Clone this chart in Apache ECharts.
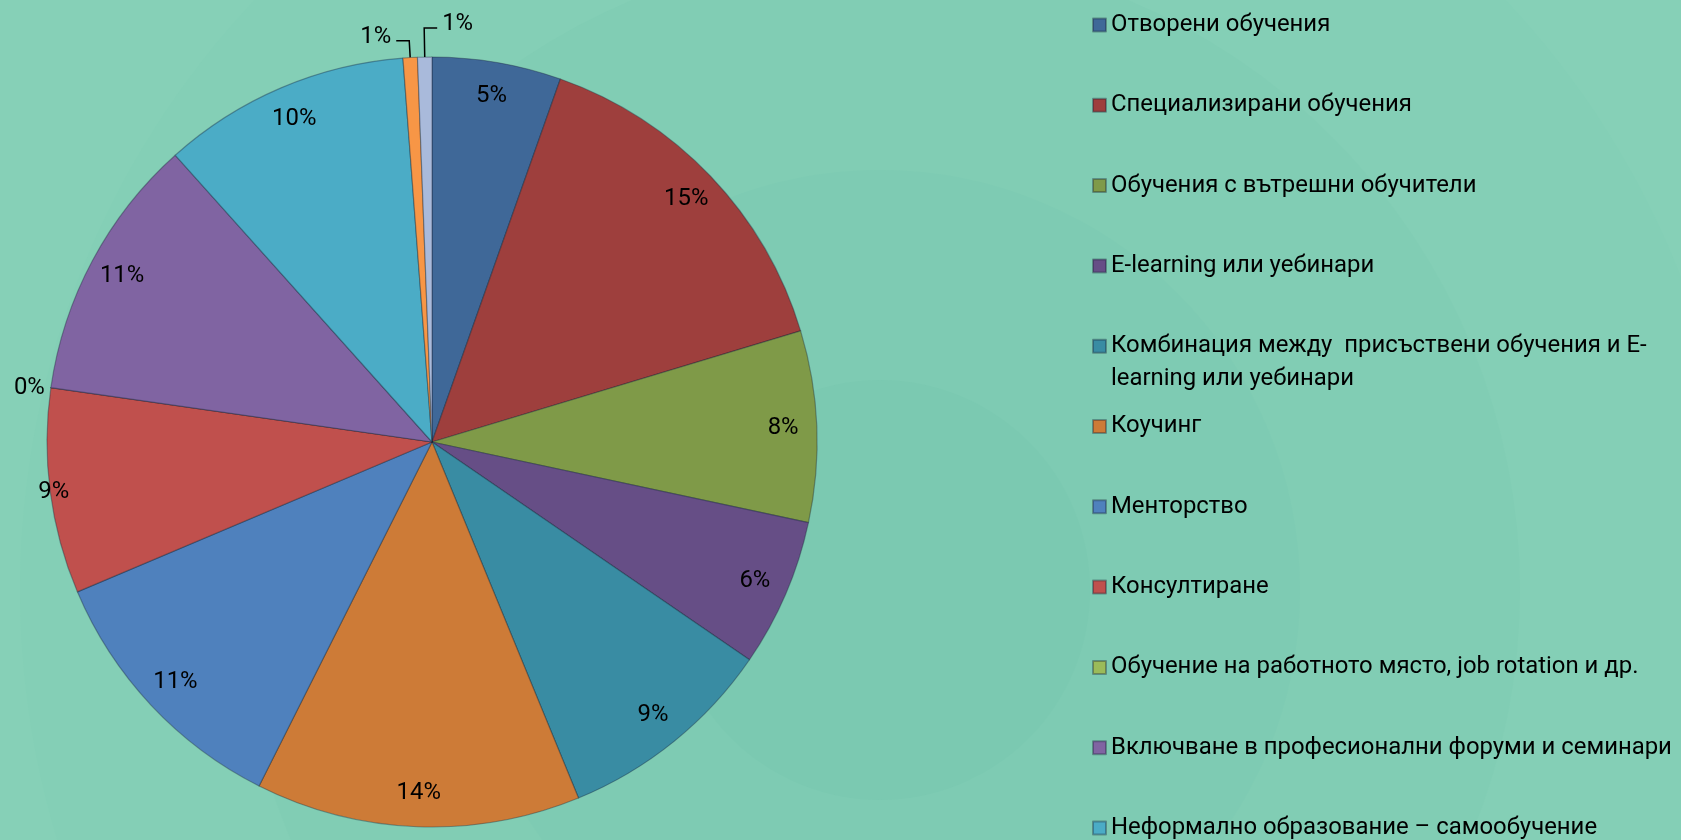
<!DOCTYPE html>
<html><head><meta charset="utf-8">
<script src="https://cdn.jsdelivr.net/npm/echarts@6/dist/echarts.min.js"></script>
<style>html,body{margin:0;padding:0;background:#86D0B7;overflow:hidden}#c{width:1681px;height:840px}</style>
</head><body><div id="c"></div>
<script>
// ---- data ----
const categories = [
  'Отворени обучения',
  'Специализирани обучения',
  'Обучения с вътрешни обучители',
  'E-learning или уебинари',
  'Комбинация между  присъствени обучения и E-learning или уебинари',
  'Коучинг',
  'Менторство',
  'Консултиране',
  'Обучение на работното място, job rotation и др.',
  'Включване в професионални форуми и семинари',
  'Неформално образование – самообучение',
  'Други',
  'Не се провеждат обучения'
];
const values = [5.4, 14.9, 8.0, 6.2, 9.2, 13.6, 11.2, 8.6, 0, 11.1, 10.4, 0.6, 0.6];
const colors = ['#3F6898','#9E3F3D','#7F9A48','#664E86','#398CA3','#CD7B37','#4F81BD','#C0504D','#9BBB59','#8064A2','#4BACC6','#F79646','#A9BADB'];

// ---- layout / style ----
const FONT = 'Roboto';
const FS = 23.9;
const LH = 33;
const CX = 432, CY = 442, R = 385;

const textBase = { fontFamily: FONT, fontSize: FS, color: '#000', lineHeight: LH };
const legendBase = {
  orient: 'vertical', left: 1092, padding: 0, itemWidth: 13, itemHeight: 13,
  itemGap: 80.3 - LH, icon: 'rect', selectedMode: false, height: 1500,
  textStyle: textBase
};

// per-slice label tweaks (outside labels)
const outsideLabel = {
  7: { label: { position: 'outside', distanceToLabelLine: -19 }, labelLine: { show: false, length: 0, length2: 0 } },
  8: { label: { position: 'outside', distanceToLabelLine: 6 }, labelLine: { show: false, length: 0, length2: 0 } },
  11: { label: { position: 'outside', distanceToLabelLine: 5 }, labelLine: { show: true, length: 17, length2: 13 } },
  12: { label: { position: 'outside', distanceToLabelLine: 5 }, labelLine: { show: true, length: 29, length2: 13 } }
};
const flipIndex = 12;
const raisedLabels = [11, 12];

const chart = echarts.init(document.getElementById('c'), null, { renderer: 'canvas' });
chart.setOption({
  backgroundColor: '#86D0B7',
  animation: false,
  graphic: { elements: [
    { type: 'circle', z: -10, silent: true, shape: { cx: 880, cy: 590, r: 860 }, style: { fill: '#84CFB6' } },
    { type: 'circle', z: -10, silent: true, shape: { cx: 880, cy: 590, r: 640 }, style: { fill: '#81CDB4' } },
    { type: 'circle', z: -10, silent: true, shape: { cx: 880, cy: 590, r: 420 }, style: { fill: '#7ECBB3' } },
    { type: 'circle', z: -10, silent: true, shape: { cx: 880, cy: 590, r: 210 }, style: { fill: '#7BC9B1' } }
  ]},
  legend: [
    Object.assign({}, legendBase, { top: 25 - LH / 2, data: categories.slice(0, 4) }),
    Object.assign({}, legendBase, {
      top: 346.2 - LH * 1.5, data: categories.slice(4, 5),
      formatter: function (n) {
        const k = n.indexOf('E-') + 2;
        return '{a|' + n.slice(0, k) + '}\n{b|' + n.slice(k) + '}';
      },
      textStyle: Object.assign({}, textBase, {
        rich: {
          a: { fontFamily: FONT, fontSize: FS, color: '#000', height: LH, lineHeight: LH * 2, verticalAlign: 'bottom' },
          b: { fontFamily: FONT, fontSize: FS, color: '#000', lineHeight: LH }
        }
      })
    }),
    Object.assign({}, legendBase, { top: 426.5 - LH / 2, data: categories.slice(5) })
  ],
  series: [
    {
      type: 'pie', center: [CX, CY], radius: [0, R], startAngle: 90, clockwise: true,
      silent: true, label: { show: false }, labelLine: { show: false },
      itemStyle: { borderColor: 'rgba(20,30,50,0.35)', borderWidth: 1.2 },
      data: categories.map((n, i) => ({ name: n, value: values[i], itemStyle: { color: colors[i] } }))
    },
    {
      type: 'pie', center: [CX, CY], radius: [R * 0.81, R], startAngle: 90, clockwise: true,
      silent: true, avoidLabelOverlap: false, legendHoverLink: false,
      itemStyle: { color: 'rgba(0,0,0,0)', borderWidth: 0 },
      label: {
        show: true, position: 'inside', fontFamily: FONT, fontSize: FS, color: '#000',
        formatter: p => Math.round(p.percent) + '%'
      },
      labelLine: { show: false, lineStyle: { color: '#000', width: 1.5 } },
      labelLayout: function (p) {
        if (raisedLabels.indexOf(p.dataIndex) < 0 || !p.labelLinePoints) return {};
        const pts = p.labelLinePoints;
        if (p.dataIndex !== flipIndex) return { dy: -4 };
        const d = pts[1][0] - pts[2][0];
        const end = [pts[1][0] + d, pts[2][1]];
        return { x: end[0] + 5, y: end[1] - 4, align: 'left', labelLinePoints: [pts[0], pts[1], end] };
      },
      data: categories.map((n, i) => Object.assign({ name: n, value: values[i] }, outsideLabel[i] || {}))
    }
  ]
});
</script>
</body></html>
